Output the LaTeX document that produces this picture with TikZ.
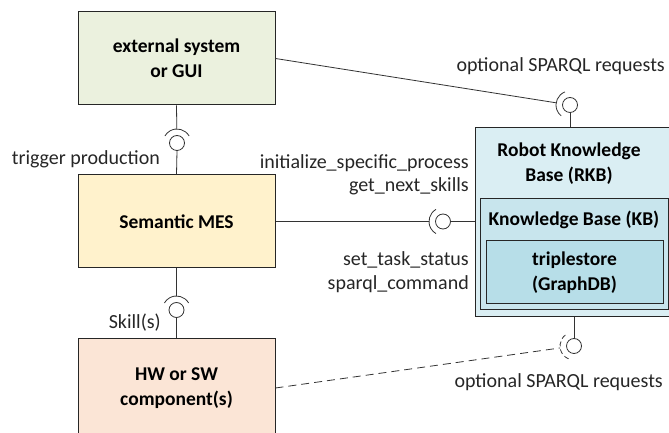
\documentclass[tikz,border=0pt]{standalone}
\usepackage{fontspec}
\setmainfont{Carlito}
\usepackage{tikz}
\usetikzlibrary{calc}

\definecolor{extfill}{HTML}{EBF1DE}
\definecolor{mesfill}{HTML}{FFF2CC}
\definecolor{hwfill}{HTML}{FBE5D6}
\definecolor{rkbfill}{HTML}{DAEEF3}
\definecolor{kbfill}{HTML}{C8E5ED}
\definecolor{tsfill}{HTML}{B7DEE8}

\begin{document}
\begin{tikzpicture}[x=1pt,y=1pt,font=\fontsize{20}{24}\selectfont,
  box/.style={draw=black!85,line width=1pt,minimum width=197pt,minimum height=93pt,
    align=center,font=\fontsize{19.5}{25}\selectfont\bfseries},
  title/.style={align=center,font=\fontsize{19.5}{25}\selectfont\bfseries},
  sock/.style={circle,draw=black!80,line width=0.8pt,fill=white,minimum size=15pt,inner sep=0pt},
  wire/.style={draw=black!80,line width=0.8pt},
  optwire/.style={wire,dash pattern=on 8pt off 5pt},
  lbl/.style={text=black!85,inner sep=0pt,align=right,font=\fontsize{20}{23.5}\selectfont}]
\useasboundingbox (0,0) rectangle (669,433);
\clip (0,0) rectangle (669,433);
% components
\node[box,fill=extfill] (ext) at (176.5,374.5) {external system\\or GUI};
\node[box,fill=mesfill] (mes) at (176.5,211.5) {Semantic MES};
\node[box,fill=hwfill,minimum height=98pt] (hw) at (176.5,45) {HW or SW\\component(s)};
\node[box,fill=rkbfill,minimum width=215pt,minimum height=189pt] (rkb) at (582.5,210.5) {};
\node[title] (rkbtitle) at (569,269) {Robot Knowledge\\Base (RKB)};
\node[box,fill=kbfill,minimum width=188pt,minimum height=111pt] (kb) at (574,178.5) {};
\node[title] (kbtitle) at (574,213) {Knowledge Base (KB)};
\node[box,fill=tsfill,minimum width=177pt,minimum height=63pt] (ts) at (574.5,160.5) {triplestore\\(GraphDB)};
% sockets
\node[sock] (s1) at (570,328) {};
\node[sock] (s2) at (177,290) {};
\node[sock] (s3) at (443,211.5) {};
\node[sock] (s4) at (176.5,123) {};
\node[sock] (s5) at (574,87) {};
% wires
\draw[wire,shorten >=14pt] (ext.east) -- (s1.center);
\draw[wire] ($(s1)+(111:14pt)$) arc[start angle=111,end angle=231,radius=14pt];
\draw[wire] (s1.south) -- (s1.south |- rkb.north);
\draw[wire,shorten >=14pt] (ext.south) -- (s2.center);
\draw[wire] ($(s2)+(30:14pt)$) arc[start angle=30,end angle=150,radius=14pt];
\draw[wire] (s2.south) -- (mes.north);
\draw[wire,shorten >=14pt] (mes.east) -- (s3.center);
\draw[wire] ($(s3)+(120:14pt)$) arc[start angle=120,end angle=240,radius=14pt];
\draw[wire] (s3.east) -- (s3 -| rkb.west);
\draw[wire,shorten >=14pt] (mes.south) -- (s4.center);
\draw[wire] ($(s4)+(30:14pt)$) arc[start angle=30,end angle=150,radius=14pt];
\draw[wire] (s4.south) -- (hw.north);
\draw[wire] (rkb.south -| s5) -- (s5.north);
\draw[optwire,shorten >=14pt] (hw.east) -- (s5.center);
\draw[wire,dash pattern=on 5pt off 3pt] ($(s5)+(128:14pt)$) arc[start angle=128,end angle=248,radius=14pt];
% labels
\node[lbl,anchor=east] (lsparqltop) at (665,367) {optional SPARQL requests};
\node[lbl,anchor=east] (ltrigger) at (160,274) {trigger production};
\node[lbl,anchor=east] (lcalls) at (469,258) {initialize\_specific\_process\\get\_next\_skills};
\node[lbl,anchor=east] (lstatus) at (469,161) {set\_task\_status\\sparql\_command};
\node[lbl,anchor=east] (lskill) at (161,110) {Skill(s)};
\node[lbl,anchor=east] (lsparqlbot) at (663,51) {optional SPARQL requests};
\end{tikzpicture}
\end{document}
